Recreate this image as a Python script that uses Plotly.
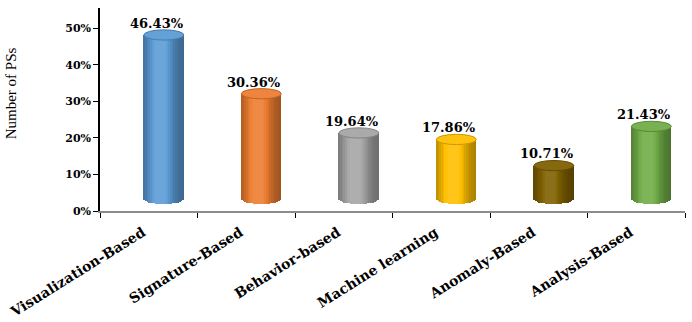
import plotly.graph_objects as go
import numpy as np

categories = ["Visualization-Based", "Signature-Based", "Behavior-based",
              "Machine learning", "Anomaly-Based", "Analysis-Based"]
values = [46.43, 30.36, 19.64, 17.86, 10.71, 21.43]
labels = ["46.43%", "30.36%", "19.64%", "17.86%", "10.71%", "21.43%"]
colors = ["#5B9BD5", "#ED7D31", "#A5A5A5", "#FFC000", "#7F6000", "#70AD47"]

# 3D cylinder geometry (in axis units)
BAR_W = 0.41
BAR_OFF = -0.05
DEPTH_SHIFT = 1.7   # upward shift of top due to perspective
BASE = 3.3          # center of bottom ellipse
ELL = 1.4           # ellipse half-height
K = 24              # vertical strips per cylinder

BOLD_FONT = "DejaVu Serif"


def hex2rgb(h):
    h = h.lstrip("#")
    return np.array([int(h[i:i + 2], 16) for i in (0, 2, 4)], dtype=float)


def shade(h, f):
    c = hex2rgb(h)
    if f >= 1:
        c = c + (255 - c) * (f - 1)
    else:
        c = c * f
    c = np.clip(c, 0, 255)
    return "rgb(%d,%d,%d)" % tuple(c)


fig = go.Figure()

for k in range(K):
    t = (k + 0.5) / K
    u = 2 * t - 1
    f = 0.66 + 0.50 * np.exp(-((t - 0.42) / 0.32) ** 2)
    f = min(f, 1.10)
    cols = [shade(c, f) for c in colors]
    dip = ELL * np.sqrt(max(0.0, 1 - u * u))
    bases = [BASE - dip] * len(values)
    heights = [v + DEPTH_SHIFT - b for v, b in zip(values, bases)]
    fig.add_trace(go.Bar(
        x=categories, y=heights, base=bases,
        width=BAR_W / K * 1.08, offset=BAR_OFF + BAR_W * k / K,
        marker=dict(color=cols, line=dict(width=0)),
        hoverinfo="skip", showlegend=False,
    ))

shapes = []
annotations = []
for i, (v, c, lab) in enumerate(zip(values, colors, labels)):
    top = v + DEPTH_SHIFT
    shapes.append(dict(
        type="circle", xref="x", yref="y",
        x0=i + BAR_OFF, x1=i + BAR_OFF + BAR_W,
        y0=top - ELL, y1=top + ELL,
        fillcolor=shade(c, 1.06), line=dict(color=shade(c, 0.8), width=1),
        layer="above",
    ))
    annotations.append(dict(
        x=i + 0.08, y=top + ELL, xref="x", yref="y",
        text=lab, showarrow=False, yanchor="bottom", yshift=-3,
        font=dict(family=BOLD_FONT, size=13, color="black", weight="bold"),
    ))

annotations.append(dict(
    x=-0.152, y=0.58, xref="paper", yref="paper",
    text="Number of PSs", textangle=-90, showarrow=False,
    xanchor="center", yanchor="middle",
    font=dict(family="Liberation Serif", size=15, color="black"),
))

fig.update_layout(
    width=692, height=322,
    margin=dict(l=100, r=7, t=8, b=111),
    paper_bgcolor="white", plot_bgcolor="white",
    barmode="overlay", bargap=0,
    shapes=shapes, annotations=annotations,
    xaxis=dict(
        type="category", range=[-0.5, 5.5], automargin=False,
        showline=True, linecolor="#8c8c8c", linewidth=2,
        ticks="outside", tickson="boundaries", ticklen=5, tickcolor="black",
        tickangle=-32, showgrid=False,
        ticklabelstandoff=6, ticklabelshift=-6,
        tickfont=dict(family=BOLD_FONT, size=14, color="black", weight="bold"),
    ),
    yaxis=dict(
        range=[0, 55.5], dtick=10, ticksuffix="%", automargin=False,
        showline=True, linecolor="black", linewidth=1.5,
        ticks="outside", ticklen=5, tickcolor="black",
        showgrid=False, zeroline=False,
        tickfont=dict(family=BOLD_FONT, size=11, color="black", weight="bold"),
    ),
)

fig.write_html("out.html")
